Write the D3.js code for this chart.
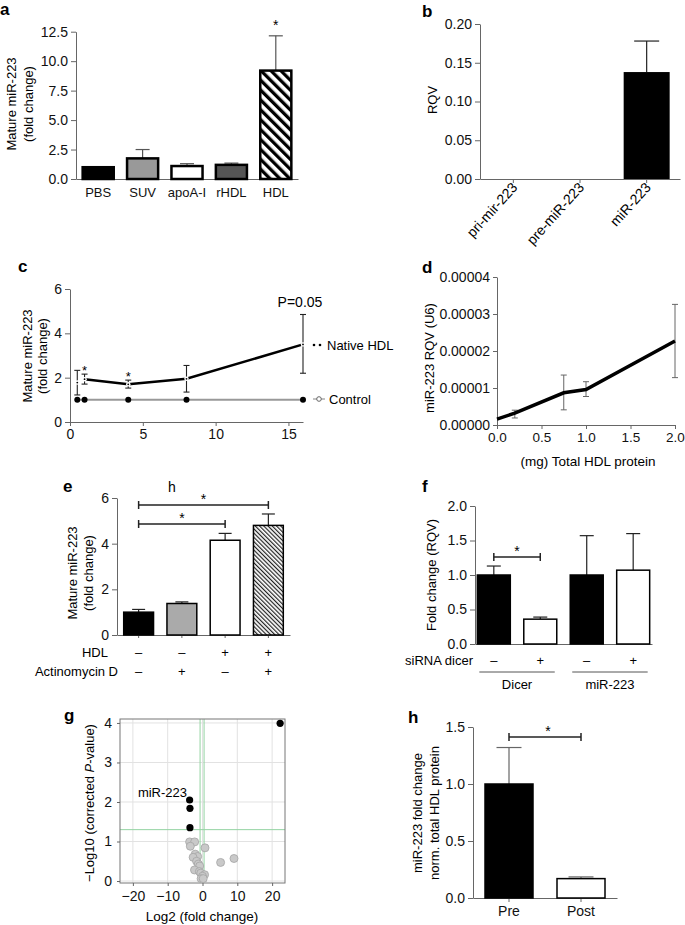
<!DOCTYPE html>
<html>
<head>
<meta charset="utf-8">
<script src="https://cdn.jsdelivr.net/npm/d3@7"></script>
<style>
body { margin: 0; background: #fff; }
svg { font-family: "Liberation Sans", Arial, sans-serif; }
.axis path, .axis line { stroke: #666; }
.axis text { fill: #111; }
</style>
</head>
<body>
<div id="fig"></div>
<script>
// ---- data ----
// a
var aCats = ["PBS", "SUV", "apoA-I", "rHDL", "HDL"];
var aMeans = [1.0, 1.75, 1.1, 1.2, 9.2];
var aErrTop = [1.0, 2.5, 1.3, 1.35, 12.15];
var aTicks = [0, 2.5, 5, 7.5, 10, 12.5];
// b
var bCats = ["pri-mir-223", "pre-miR-223", "miR-223"];
var bMeans = [0, 0, 0.138];
var bErrTop = [null, null, 0.178];
var bTicks = [0, 0.05, 0.10, 0.15, 0.20];
// c
var cTimes = [0.5, 1, 4, 8, 16];
var cNative = [1.78, 1.93, 1.7, 1.95, 3.5];
var cNativeLo = [1.22, 1.71, 1.53, 1.35, 2.2];
var cNativeHi = [2.33, 2.16, 1.89, 2.55, 4.85];
var cControl = [1, 1, 1, 1, 1];
var cTicksY = [0, 2, 4, 6];
var cTicksX = [0, 5, 10, 15];
// d
var dDose = [0, 0.2, 0.75, 1.0, 2.0];
var dMean = [0.0000016, 0.0000032, 0.0000087, 0.0000096, 0.0000227];
var dLo = [null, 0.0000019, 0.0000041, 0.0000077, 0.0000128];
var dHi = [null, 0.000004, 0.0000135, 0.0000117, 0.0000326];
var dTicksY = [0, 0.00001, 0.00002, 0.00003, 0.00004];
var dTicksX = [0, 0.5, 1.0, 1.5, 2.0];
// e
var eMeans = [1.0, 1.38, 4.15, 4.8];
var eErrTop = [1.12, 1.45, 4.45, 5.3];
var eHDL = ["\u2013", "\u2013", "+", "+"];
var eActD = ["\u2013", "+", "\u2013", "+"];
var eTicks = [0, 2, 4, 6];
// f
var fMeans = [1.0, 0.36, 1.0, 1.07];
var fErrTop = [1.13, 0.39, 1.57, 1.6];
var fSirna = ["\u2013", "+", "\u2013", "+"];
var fGroups = ["Dicer", "miR-223"];
var fTicks = [0, 0.5, 1.0, 1.5, 2.0];
// g
var gSigX = [22.3, -3.7, -3.6, -3.6];
var gSigY = [3.99, 2.05, 1.84, 1.35];
var gNsX = [-3.7, -2.25, -3.5, 0.72, -2.1, -1.4, -2.7, -1.7, 9.05, 5.2, -1.2, -0.8, -2.3, -0.9, -0.5, 0.6, 0.0, -0.4, 0.2];
var gNsY = [0.99, 0.99, 0.88, 0.84, 0.68, 0.62, 0.6, 0.5, 0.57, 0.47, 0.43, 0.38, 0.28, 0.24, 0.2, 0.16, 0.12, 0.06, 0.06];
var gTicksX = [-20, -10, 0, 10, 20];
var gTicksY = [0, 1, 2, 3, 4];
// h
var hCats = ["Pre", "Post"];
var hMeans = [1.0, 0.17];
var hErrTop = [1.32, 0.185];
var hTicks = [0, 0.5, 1.0, 1.5];

// ---- svg ----
var svg = d3.select("#fig").append("svg")
    .attr("width", 685)
    .attr("height", 925);

var defs = svg.append("defs");
defs.append("pattern")
    .attr("id", "hatchA")
    .attr("patternUnits", "userSpaceOnUse")
    .attr("width", 7).attr("height", 7)
    .attr("patternTransform", "rotate(-45)")
    .append("rect").attr("width", 3.3).attr("height", 7).attr("fill", "#000");
defs.append("pattern")
    .attr("id", "hatchE")
    .attr("patternUnits", "userSpaceOnUse")
    .attr("width", 3).attr("height", 3)
    .attr("patternTransform", "rotate(-45)")
    .append("rect").attr("width", 1.2).attr("height", 3).attr("fill", "#222");

var fmtInt = d3.format("d");
var TICK = 14;

function panelLabel(t, x, y) {
    svg.append("text").attr("x", x).attr("y", y)
        .attr("font-weight", "bold").attr("font-size", 17).text(t);
}

function yTitle(lines, x, y, gap) {
    lines.forEach(function(l, i) {
        svg.append("text")
            .attr("transform", `translate(${x + i * gap}, ${y}) rotate(-90)`)
            .attr("text-anchor", "middle")
            .attr("dominant-baseline", "central")
            .attr("font-size", 13)
            .text(l);
    });
}

function styleAxis(g, size) {
    g.attr("class", "axis").attr("font-size", size || 13)
        .attr("font-family", null);
    return g;
}

function errUp(x, y0, y1, cap, color) {
    svg.append("line").attr("x1", x).attr("x2", x).attr("y1", y0).attr("y2", y1)
        .attr("stroke", color).attr("stroke-width", 1.2);
    svg.append("line").attr("x1", x - cap / 2).attr("x2", x + cap / 2).attr("y1", y1).attr("y2", y1)
        .attr("stroke", color).attr("stroke-width", 1.2);
}

function bracket(x1, x2, y, starX) {
    svg.append("line").attr("x1", x1).attr("x2", x2).attr("y1", y).attr("y2", y)
        .attr("stroke", "#222").attr("stroke-width", 1.5);
    [x1, x2].forEach(function(x) {
        svg.append("line").attr("x1", x).attr("x2", x).attr("y1", y - 4).attr("y2", y + 4)
            .attr("stroke", "#222").attr("stroke-width", 1.5);
    });
    svg.append("text").attr("x", starX).attr("y", y - 1)
        .attr("text-anchor", "middle").attr("font-size", 14).text("*");
}

// ================= a =================
panelLabel("a", 0, 15);
var aY = d3.scaleLinear().domain([0, 12.5]).range([179, 31.7]);
var aX = d3.scaleBand().domain(aCats).range([76, 298]).paddingInner(0.3).paddingOuter(0.15);
styleAxis(svg.append("g").attr("transform", "translate(76,0)")
    .call(d3.axisLeft(aY).tickValues(aTicks).tickFormat(d3.format(".1f")).tickSize(5).tickSizeOuter(0)), TICK);
styleAxis(svg.append("g").attr("transform", "translate(0,179)")
    .call(d3.axisBottom(aX).tickSize(0).tickPadding(9)));
var aFills = ["#000", "#999", "#fff", "#555", "url(#hatchA)"];
aCats.forEach(function(c, i) {
    errUp(aX(c) + aX.bandwidth() / 2, aY(aMeans[i]), aY(aErrTop[i]), 14, "#555");
});
svg.selectAll(".barA").data(aCats).enter().append("rect")
    .attr("x", d => aX(d))
    .attr("y", (d, i) => aY(aMeans[i]))
    .attr("width", aX.bandwidth())
    .attr("height", (d, i) => aY(0) - aY(aMeans[i]))
    .attr("fill", (d, i) => aFills[i])
    .attr("stroke", "#000").attr("stroke-width", 2.5);
svg.append("text").attr("x", aX("HDL") + aX.bandwidth() / 2).attr("y", 30)
    .attr("text-anchor", "middle").attr("font-size", 14).text("*");
yTitle(["Mature miR-223", "(fold change)"], 11, 104, 17);

// ================= b =================
panelLabel("b", 422, 17);
var bY = d3.scaleLinear().domain([0, 0.2]).range([179, 24]);
var bX = d3.scaleBand().domain(bCats).range([480, 680]).paddingInner(0.31).paddingOuter(0.155);
styleAxis(svg.append("g").attr("transform", "translate(480,0)")
    .call(d3.axisLeft(bY).tickValues(bTicks).tickFormat(d3.format(".2f")).tickSize(5).tickSizeOuter(0)), TICK);
styleAxis(svg.append("g").attr("transform", "translate(0,179)")
    .call(d3.axisBottom(bX).tickSize(4).tickSizeOuter(0).tickFormat("")));
bCats.forEach(function(c, i) {
    var cx = bX(c) + bX.bandwidth() / 2;
    if (bErrTop[i] != null) errUp(cx, bY(bMeans[i]), bY(bErrTop[i]), 25, "#222");
    svg.append("rect").attr("x", bX(c)).attr("y", bY(bMeans[i]))
        .attr("width", bX.bandwidth()).attr("height", bY(0) - bY(bMeans[i]))
        .attr("fill", "#000");
    svg.append("text")
        .attr("transform", `translate(${cx + 5}, 188) rotate(-48)`)
        .attr("text-anchor", "end").attr("font-size", 14).text(c);
});
yTitle(["RQV"], 432, 100, 0);

// ================= c =================
panelLabel("c", 18, 272);
var cX = d3.scaleLinear().domain([0, 16]).range([70, 303]);
var cY = d3.scaleLinear().domain([0, 6]).range([422, 289]);
styleAxis(svg.append("g").attr("transform", "translate(70,0)")
    .call(d3.axisLeft(cY).tickValues(cTicksY).tickFormat(fmtInt).tickSize(5).tickSizeOuter(0)), TICK);
styleAxis(svg.append("g").attr("transform", "translate(0,422)")
    .call(d3.axisBottom(cX).tickValues(cTicksX).tickFormat(fmtInt).tickSize(4).tickSizeOuter(0)), TICK);
var cLine = d3.line().x(d => cX(d[0])).y(d => cY(d[1]));
svg.append("path").datum(cTimes.map((t, i) => [t, cControl[i]]))
    .attr("d", cLine).attr("fill", "none").attr("stroke", "#999").attr("stroke-width", 2);
svg.selectAll(".dotC").data(cTimes).enter().append("circle")
    .attr("cx", d => cX(d)).attr("cy", (d, i) => cY(cControl[i])).attr("r", 3).attr("fill", "#000");
cTimes.forEach(function(t, i) {
    var x = cX(t);
    svg.append("line").attr("x1", x).attr("x2", x).attr("y1", cY(cNativeLo[i])).attr("y2", cY(cNativeHi[i]))
        .attr("stroke", "#222").attr("stroke-width", 1.1);
    [cNativeLo[i], cNativeHi[i]].forEach(function(v) {
        svg.append("line").attr("x1", x - 3).attr("x2", x + 3).attr("y1", cY(v)).attr("y2", cY(v))
            .attr("stroke", "#222").attr("stroke-width", 1.1);
    });
});
svg.append("path").datum(cTimes.map((t, i) => [t, cNative[i]]).slice(1))
    .attr("d", cLine).attr("fill", "none").attr("stroke", "#000").attr("stroke-width", 2.5);
svg.selectAll(".dotN").data(cTimes).enter().append("circle")
    .attr("cx", d => cX(d)).attr("cy", (d, i) => cY(cNative[i])).attr("r", 2.2).attr("fill", "#fff");
svg.selectAll(".dotN2").data(cTimes).enter().append("circle")
    .attr("cx", d => cX(d)).attr("cy", (d, i) => cY(cNative[i])).attr("r", 0.9).attr("fill", "#000");
svg.append("text").attr("x", cX(1)).attr("y", cY(cNativeHi[1]) + 1).attr("text-anchor", "middle").attr("font-size", 13).text("*");
svg.append("text").attr("x", cX(4)).attr("y", cY(cNativeHi[2]) + 1).attr("text-anchor", "middle").attr("font-size", 13).text("*");
svg.append("text").attr("x", 300).attr("y", 307).attr("text-anchor", "middle").attr("font-size", 14).text("P=0.05");
// legend
svg.append("circle").attr("cx", 314).attr("cy", 345).attr("r", 1.3).attr("fill", "#000");
svg.append("circle").attr("cx", 320).attr("cy", 345).attr("r", 1.3).attr("fill", "#000");
svg.append("text").attr("x", 327).attr("y", 349.5).attr("font-size", 13).text("Native HDL");
svg.append("line").attr("x1", 313).attr("x2", 325).attr("y1", 399).attr("y2", 399).attr("stroke", "#999").attr("stroke-width", 1.2);
svg.append("circle").attr("cx", 319).attr("cy", 399).attr("r", 2.3).attr("fill", "#fff").attr("stroke", "#666");
svg.append("text").attr("x", 329).attr("y", 403.5).attr("font-size", 13).text("Control");
yTitle(["Mature miR-223", "(fold change)"], 27, 356, 15);

// ================= d =================
panelLabel("d", 422, 273);
var dX = d3.scaleLinear().domain([0, 2]).range([497, 675]);
var dY = d3.scaleLinear().domain([0, 0.00004]).range([425, 277]);
styleAxis(svg.append("g").attr("transform", "translate(497,0)")
    .call(d3.axisLeft(dY).tickValues(dTicksY).tickFormat(d3.format(".5f")).tickSize(4).tickSizeOuter(0)), TICK);
styleAxis(svg.append("g").attr("transform", "translate(0,425)")
    .call(d3.axisBottom(dX).tickValues(dTicksX).tickFormat(d3.format(".1f")).tickSize(4).tickSizeOuter(0)), 13.5);
dDose.forEach(function(t, i) {
    if (dLo[i] == null) return;
    var x = dX(t);
    svg.append("line").attr("x1", x).attr("x2", x).attr("y1", dY(dLo[i])).attr("y2", dY(dHi[i]))
        .attr("stroke", "#666").attr("stroke-width", 1);
    [dLo[i], dHi[i]].forEach(function(v) {
        svg.append("line").attr("x1", x - 3).attr("x2", x + 3).attr("y1", dY(v)).attr("y2", dY(v))
            .attr("stroke", "#666").attr("stroke-width", 1);
    });
});
svg.append("path").datum(dDose.map((t, i) => [t, dMean[i]]))
    .attr("d", d3.line().x(d => dX(d[0])).y(d => dY(d[1])))
    .attr("fill", "none").attr("stroke", "#000").attr("stroke-width", 3.5);
svg.append("text").attr("x", 588).attr("y", 466).attr("text-anchor", "middle").attr("font-size", 13.5).text("(mg) Total HDL protein");
yTitle(["miR-223 RQV (U6)"], 429, 358, 0);

// ================= e =================
panelLabel("e", 63, 492);
svg.append("text").attr("x", 172).attr("y", 492).attr("text-anchor", "middle").attr("font-size", 14).text("h");
var eIdx = d3.range(eMeans.length);
var eY = d3.scaleLinear().domain([0, 6]).range([635, 498]);
var eX = d3.scaleBand().domain(eIdx).range([117, 290]).paddingInner(0.31).paddingOuter(0.155);
styleAxis(svg.append("g").attr("transform", "translate(117,0)")
    .call(d3.axisLeft(eY).tickValues(eTicks).tickFormat(fmtInt).tickSize(5).tickSizeOuter(0)), TICK);
styleAxis(svg.append("g").attr("transform", "translate(0,635)")
    .call(d3.axisBottom(eX).tickSize(3).tickSizeOuter(0).tickFormat("")));
var eFills = ["#000", "#aaa", "#fff", "url(#hatchE)"];
eIdx.forEach(function(i) {
    errUp(eX(i) + eX.bandwidth() / 2, eY(eMeans[i]), eY(eErrTop[i]), 13, "#222");
});
svg.selectAll(".barE").data(eIdx).enter().append("rect")
    .attr("x", d => eX(d)).attr("y", d => eY(eMeans[d]))
    .attr("width", eX.bandwidth()).attr("height", d => eY(0) - eY(eMeans[d]))
    .attr("fill", d => eFills[d]).attr("stroke", "#000").attr("stroke-width", 1.5);
var eC = i => eX(i) + eX.bandwidth() / 2;
bracket(eC(0), eC(3), 505, (eC(0) + eC(3)) / 2);
bracket(eC(0), eC(2), 524, (eC(0) + eC(2)) / 2);
svg.append("text").attr("x", 108).attr("y", 657).attr("text-anchor", "end").attr("font-size", 13).text("HDL");
svg.append("text").attr("x", 118).attr("y", 676).attr("text-anchor", "end").attr("font-size", 13).text("Actinomycin D");
eIdx.forEach(function(i) {
    svg.append("text").attr("x", eC(i)).attr("y", 657).attr("text-anchor", "middle").attr("font-size", 13).text(eHDL[i]);
    svg.append("text").attr("x", eC(i)).attr("y", 676).attr("text-anchor", "middle").attr("font-size", 13).text(eActD[i]);
});
yTitle(["Mature miR-223", "(fold change)"], 72, 573, 16);

// ================= f =================
panelLabel("f", 422, 492);
var fIdx = d3.range(fMeans.length);
var fY = d3.scaleLinear().domain([0, 2]).range([644, 506]);
var fX = d3.scaleBand().domain(fIdx).range([475, 652]).paddingInner(0.29).paddingOuter(0.05);
styleAxis(svg.append("g").attr("transform", "translate(475,0)")
    .call(d3.axisLeft(fY).tickValues(fTicks).tickFormat(d3.format(".1f")).tickSize(5).tickSizeOuter(0)), TICK);
styleAxis(svg.append("g").attr("transform", "translate(0,644)")
    .call(d3.axisBottom(fX).tickSize(0).tickSizeOuter(0).tickFormat("")));
var fFills = ["#000", "#fff", "#000", "#fff"];
var fC = i => fX(i) + fX.bandwidth() / 2;
fIdx.forEach(function(i) {
    errUp(fC(i), fY(fMeans[i]), fY(fErrTop[i]), 14, "#222");
});
svg.selectAll(".barF").data(fIdx).enter().append("rect")
    .attr("x", d => fX(d)).attr("y", d => fY(fMeans[d]))
    .attr("width", fX.bandwidth()).attr("height", d => fY(0) - fY(fMeans[d]))
    .attr("fill", d => fFills[d]).attr("stroke", "#000").attr("stroke-width", 1.5);
bracket(fC(0), fC(1), 557, (fC(0) + fC(1)) / 2);
svg.append("text").attr("x", 473).attr("y", 665).attr("text-anchor", "end").attr("font-size", 13).text("siRNA dicer");
fIdx.forEach(function(i) {
    svg.append("text").attr("x", fC(i)).attr("y", 665).attr("text-anchor", "middle").attr("font-size", 13).text(fSirna[i]);
});
fGroups.forEach(function(gname, k) {
    var x1 = fX(2 * k) + 2, x2 = fX(2 * k + 1) + fX.bandwidth() - 2;
    svg.append("line").attr("x1", x1).attr("x2", x2).attr("y1", 672).attr("y2", 672)
        .attr("stroke", "#555").attr("stroke-width", 1);
    svg.append("text").attr("x", (x1 + x2) / 2).attr("y", 689).attr("text-anchor", "middle").attr("font-size", 13).text(gname);
});
yTitle(["Fold change (RQV)"], 431, 575, 0);

// ================= g =================
panelLabel("g", 64, 721);
var gX = d3.scaleLinear().domain([-23.7, 23.7]).range([120, 285]);
var gY = d3.scaleLinear().domain([-0.05, 4.1]).range([883, 719]);
svg.selectAll(".gridX").data(gTicksX).enter().append("line")
    .attr("x1", d => gX(d)).attr("x2", d => gX(d)).attr("y1", 719).attr("y2", 883)
    .attr("stroke", "#e2e2e2").attr("stroke-width", 1);
svg.selectAll(".gridY").data(gTicksY).enter().append("line")
    .attr("x1", 120).attr("x2", 285).attr("y1", d => gY(d)).attr("y2", d => gY(d))
    .attr("stroke", "#e2e2e2").attr("stroke-width", 1);
[-0.7, 0.45].forEach(function(v) {
    svg.append("line").attr("x1", gX(v)).attr("x2", gX(v)).attr("y1", 719).attr("y2", 883)
        .attr("stroke", "#93d3a2").attr("stroke-width", 1);
});
svg.append("line").attr("x1", 120).attr("x2", 285).attr("y1", gY(1.3)).attr("y2", gY(1.3))
    .attr("stroke", "#93d3a2").attr("stroke-width", 1);
svg.append("rect").attr("x", 120).attr("y", 719).attr("width", 165).attr("height", 164)
    .attr("fill", "none").attr("stroke", "#777").attr("stroke-width", 1);
var gYAxis = styleAxis(svg.append("g").attr("transform", "translate(120,0)")
    .call(d3.axisLeft(gY).tickValues(gTicksY).tickFormat(fmtInt).tickSize(3).tickPadding(5).tickSizeOuter(0)), TICK);
gYAxis.select(".domain").remove();
var gXAxis = styleAxis(svg.append("g").attr("transform", "translate(0,883)")
    .call(d3.axisBottom(gX).tickValues(gTicksX).tickFormat(d => d < 0 ? "\u2212" + Math.abs(d) : String(d)).tickSize(3).tickPadding(5).tickSizeOuter(0)), TICK);
gXAxis.select(".domain").remove();
svg.selectAll(".ns").data(gNsX).enter().append("circle")
    .attr("cx", d => gX(d)).attr("cy", (d, i) => gY(gNsY[i])).attr("r", 4)
    .attr("fill", "#c9c9c9").attr("stroke", "#a5a5a5").attr("stroke-width", 0.8);
svg.selectAll(".sig").data(gSigX).enter().append("circle")
    .attr("cx", d => gX(d)).attr("cy", (d, i) => gY(gSigY[i])).attr("r", 3.6)
    .attr("fill", "#000");
svg.append("text").attr("x", 187).attr("y", 797).attr("text-anchor", "end").attr("font-size", 13).text("miR-223");
var gT = svg.append("text")
    .attr("transform", "translate(89,803) rotate(-90)")
    .attr("text-anchor", "middle").attr("dominant-baseline", "central").attr("font-size", 13);
gT.append("tspan").text("\u2212Log10 (corrected ");
gT.append("tspan").attr("font-style", "italic").text("P");
gT.append("tspan").text("-value)");
svg.append("text").attr("x", 202).attr("y", 921).attr("text-anchor", "middle").attr("font-size", 13.5).text("Log2 (fold change)");

// ================= h =================
panelLabel("h", 408, 723);
var hY = d3.scaleLinear().domain([0, 1.5]).range([898, 727]);
var hX = d3.scaleBand().domain(hCats).range([473, 617]).paddingInner(1 / 3).paddingOuter(1 / 6);
styleAxis(svg.append("g").attr("transform", "translate(473,0)")
    .call(d3.axisLeft(hY).tickValues(hTicks).tickFormat(d3.format(".1f")).tickSize(5).tickSizeOuter(0)), TICK);
styleAxis(svg.append("g").attr("transform", "translate(0,898)")
    .call(d3.axisBottom(hX).tickSize(4).tickPadding(4).tickSizeOuter(0)), TICK);
var hFills = ["#000", "#fff"];
var hC = c => hX(c) + hX.bandwidth() / 2;
hCats.forEach(function(c, i) {
    errUp(hC(c), hY(hMeans[i]), hY(hErrTop[i]), 25, "#666");
});
svg.selectAll(".barH").data(hCats).enter().append("rect")
    .attr("x", d => hX(d)).attr("y", (d, i) => hY(hMeans[i]))
    .attr("width", hX.bandwidth()).attr("height", (d, i) => hY(0) - hY(hMeans[i]))
    .attr("fill", (d, i) => hFills[i]).attr("stroke", "#000").attr("stroke-width", 1.5);
bracket(hC("Pre"), hC("Post"), 737, (hC("Pre") + hC("Post")) / 2 + 3);
yTitle(["miR-223 fold change", "norm. total HDL protein"], 417, 813, 17);
</script>
</body>
</html>
